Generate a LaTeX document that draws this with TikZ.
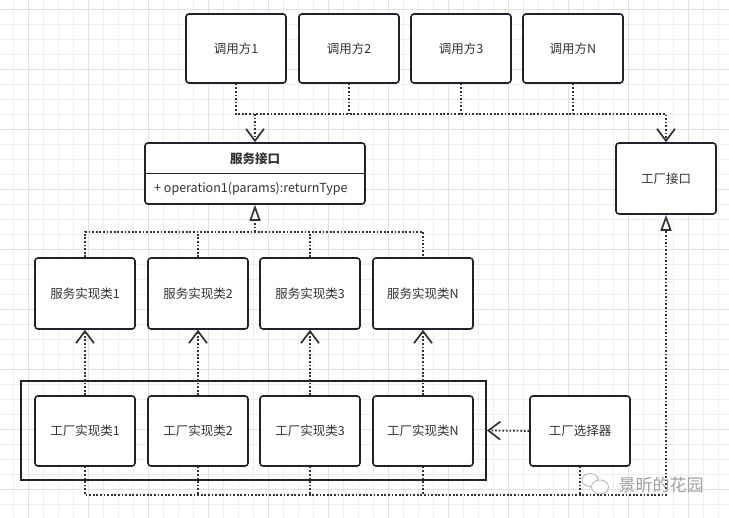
\documentclass[tikz,border=0pt]{standalone}
\usepackage{fontspec}
\setmainfont{Noto Sans CJK SC}
\usetikzlibrary{arrows.meta}
\definecolor{boxline}{HTML}{1F2329}
\definecolor{conline}{HTML}{333333}
\definecolor{txt}{HTML}{333333}
\definecolor{gridminor}{HTML}{EEEEEE}
\definecolor{gridmajor}{HTML}{E2E2E2}
\tikzset{
  box/.style={draw=boxline, line width=1.6pt, rounded corners=3pt, fill=white,
    minimum width=100pt, minimum height=70pt, inner sep=0pt, text=txt, font=\fontsize{12.5}{14}\selectfont},
  conn/.style={draw=conline, line width=1.7pt, dash pattern=on 1.7pt off 1.9pt},
  barb/.style={-{Straight Barb[length=12pt,width=18pt,line width=1.7pt]}},
  tri/.style={-{Triangle[open,fill=white,length=16pt,width=11pt,line width=1.7pt]}},
}
\begin{document}
\begin{tikzpicture}[x=1pt,y=-1pt]
\useasboundingbox (0,0) rectangle (729,518);
\fill[white] (0,0) rectangle (729,518);
% grid
\foreach \i in {0,...,48} {
  \pgfmathsetmacro{\gx}{13.3+15*\i}
  \draw[gridminor, line width=0.8pt] (\gx,0) -- (\gx,518);
}
\foreach \i in {0,...,34} {
  \pgfmathsetmacro{\gy}{9.3+15*\i}
  \draw[gridminor, line width=0.8pt] (0,\gy) -- (729,\gy);
}
\foreach \i in {0,...,11} {
  \pgfmathsetmacro{\gx}{28.3+60*\i}
  \draw[gridmajor, line width=0.8pt] (\gx,0) -- (\gx,518);
}
\foreach \i in {0,...,8} {
  \pgfmathsetmacro{\gy}{9.3+60*\i}
  \draw[gridmajor, line width=0.8pt] (0,\gy) -- (729,\gy);
}

% callers
\node[box, minimum height=69pt] (c1) at (236,48.5) {调用方1};
\node[box, minimum height=69pt] (c2) at (349,48.5) {调用方2};
\node[box, minimum height=69pt] (c3) at (461,48.5) {调用方3};
\node[box, minimum height=69pt] (cN) at (573,48.5) {调用方N};

% service interface
\node[box, minimum width=220pt, minimum height=61pt] (si) at (255,173.5) {};
\draw[boxline, line width=1.6pt] (si.west) -- (si.east);
\node[text=txt, font=\fontsize{12.5}{14}\selectfont\bfseries] (sititle) at (255,159) {服务接口};
\node[text=txt, font=\fontsize{12.5}{14}\selectfont, anchor=west, inner sep=0pt] (siop) at (154,189) {+ operation1(params):returnType};

% factory interface
\node[box, minimum height=71pt] (fi) at (666,178.5) {工厂接口};

% service implementations
\node[box, minimum height=71pt] (s1) at (85,293.5) {服务实现类1};
\node[box, minimum height=71pt] (s2) at (198,293.5) {服务实现类2};
\node[box, minimum height=71pt] (s3) at (310,293.5) {服务实现类3};
\node[box, minimum height=71pt] (sN) at (423,293.5) {服务实现类N};

% factory group
\node[draw=boxline, line width=1.8pt, minimum width=465pt, minimum height=99pt, inner sep=0pt] (grp) at (253.5,430.5) {};
\node[box] (f1) at (85,431) {工厂实现类1};
\node[box] (f2) at (198,431) {工厂实现类2};
\node[box] (f3) at (310,431) {工厂实现类3};
\node[box] (fN) at (423,431) {工厂实现类N};

% selector
\node[box] (sel) at (580,431) {工厂选择器};

% coordinates of junction lines
\coordinate (hTop) at (666,114);
\coordinate (hMid) at (423,232);
\coordinate (hBot) at (666,495);

% callers -> interfaces
\draw[conn, barb] (c1.south) |- (hTop) -- (fi.north);
\draw[conn] (c2.south) -- (c2.south |- hTop);
\draw[conn] (c3.south) -- (c3.south |- hTop);
\draw[conn] (cN.south) -- (cN.south |- hTop);
\draw[conn, barb] (si.north |- hTop) -- (si.north);

% service impls realize service interface
\draw[conn] (s1.north) |- (hMid) -- (sN.north);
\draw[conn] (s2.north) -- (s2.north |- hMid);
\draw[conn] (s3.north) -- (s3.north |- hMid);
\draw[conn, tri] (si.south |- hMid) -- (si.south);

% factory impls -> service impls
\draw[conn, barb] (f1.north) -- (s1.south);
\draw[conn, barb] (f2.north) -- (s2.south);
\draw[conn, barb] (f3.north) -- (s3.south);
\draw[conn, barb] (fN.north) -- (sN.south);

% factory impls realize factory interface
\draw[conn, tri] (f1.south) |- (hBot) -- (fi.south);
\draw[conn] (f2.south) -- (f2.south |- hBot);
\draw[conn] (f3.south) -- (f3.south |- hBot);
\draw[conn] (fN.south) -- (fN.south |- hBot);
\draw[conn] (sel.south) -- (sel.south |- hBot);

% selector -> group
\draw[conn, barb] (sel.west) -- (grp.east);

% watermark
\draw[gray!60, fill=white, line width=0.8pt] (590,480) ellipse (8pt and 6.5pt);
\draw[gray!60, fill=white, line width=0.8pt] (600,487) ellipse (8.5pt and 7pt);
\node[text=gray!75, font=\fontsize{17}{19}\selectfont, inner sep=0pt] (wm) at (661,485) {景昕的花园};
\end{tikzpicture}
\end{document}
